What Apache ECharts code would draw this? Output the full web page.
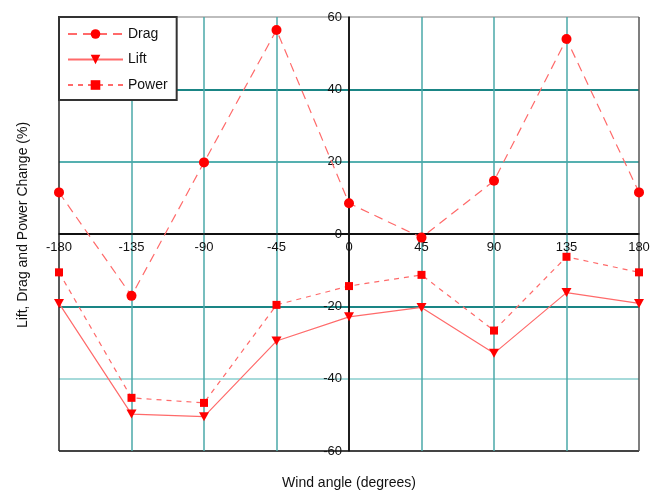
<!DOCTYPE html>
<html>
<head>
<meta charset="utf-8">
<script src="https://cdn.jsdelivr.net/npm/echarts@6/dist/echarts.min.js"></script>
<style>html,body{margin:0;padding:0;background:#fff}#c{width:653px;height:494px}</style>
</head>
<body>
<div id="c"></div>
<script>
var angles = [-180, -135, -90, -45, 0, 45, 90, 135, 180];
var drag = [11.5, -17.1, 19.8, 56.4, 8.5, -1.0, 14.7, 53.9, 11.5];
var lift = [-19.2, -49.8, -50.5, -29.6, -22.9, -20.3, -33.0, -16.2, -19.2];
var power = [-10.6, -45.3, -46.7, -19.6, -14.4, -11.3, -26.7, -6.3, -10.6];
var xTicks = [-180, -135, -90, -45, 0, 45, 90, 135, 180];
var yTicks = [-60, -40, -20, 0, 20, 40, 60];

function pairs(vals) { return angles.map(function (a, i) { return [a, vals[i]]; }); }

var FONT = 'Liberation Sans, Arial, sans-serif';
var lineColor = '#ff6a6a';
var markColor = '#ff0000';

var W = 653, H = 494;
var G = { left: 59, right: 14, top: 17, bottom: 43 };
var plotW = W - G.left - G.right, plotH = H - G.top - G.bottom;
var xMin = xTicks[0], xMax = xTicks[xTicks.length - 1];
var yMin = yTicks[0], yMax = yTicks[yTicks.length - 1];
// move axes onto the zero lines of the other axis
var xAxisOffset = -plotH * (0 - yMin) / (yMax - yMin);
var yAxisOffset = -plotW * (0 - xMin) / (xMax - xMin);

var chart = echarts.init(document.getElementById('c'));
chart.setOption({
  animation: false,
  backgroundColor: '#fff',
  textStyle: { fontFamily: FONT },
  grid: { left: G.left, right: G.right, top: G.top, bottom: G.bottom, containLabel: false },
  xAxis: {
    type: 'value', position: 'bottom', offset: xAxisOffset,
    min: xMin, max: xMax, interval: 45,
    axisLine: { onZero: false, lineStyle: { color: '#111', width: 1.5 } },
    axisTick: { show: false },
    axisLabel: { color: '#111', fontSize: 13, margin: 7, fontFamily: FONT },
    splitLine: { show: true, lineStyle: { width: 1.5, color: ['#222', '#4aa8a8', '#4aa8a8', '#4aa8a8', '#111', '#4aa8a8', '#4aa8a8', '#4aa8a8', '#555'] } }
  },
  yAxis: {
    type: 'value', position: 'left', offset: yAxisOffset,
    min: yMin, max: yMax, interval: 20,
    axisLine: { onZero: false, lineStyle: { color: '#111', width: 1.5 } },
    axisTick: { show: false },
    axisLabel: { color: '#111', fontSize: 13, margin: 7, fontFamily: FONT },
    splitLine: { show: true, lineStyle: { width: 2, color: ['#444', '#a6dada', '#1a8585', '#111', '#55b0b0', '#1a8585', '#bdbdbd'] } }
  },
  legend: {
    orient: 'vertical', left: 59, top: 17,
    backgroundColor: '#fff', borderColor: '#333', borderWidth: 2, borderRadius: 0,
    padding: [10, 9, 8, 8],
    itemWidth: 55, itemHeight: 12, itemGap: 11.5,
    textStyle: { fontSize: 14, color: '#111', fontFamily: FONT },
    data: ['Drag', 'Lift', 'Power']
  },
  graphic: [
    { type: 'text', x: 23, y: 225, rotation: Math.PI / 2,
      style: { text: 'Lift, Drag and Power Change (%)', font: '14px ' + FONT, fill: '#111', align: 'center', verticalAlign: 'middle' } },
    { type: 'text', x: 349, y: 483,
      style: { text: 'Wind angle (degrees)', font: '14px ' + FONT, fill: '#111', align: 'center', verticalAlign: 'middle' } }
  ],
  series: [
    { name: 'Drag', type: 'line', data: pairs(drag), symbol: 'circle', symbolSize: 10,
      lineStyle: { color: lineColor, width: 1.2, type: [9, 6] }, itemStyle: { color: markColor }, z: 5 },
    { name: 'Lift', type: 'line', data: pairs(lift), symbol: 'triangle', symbolSize: [10, 9], symbolRotate: 180,
      lineStyle: { color: lineColor, width: 1.2, type: 'solid' }, itemStyle: { color: markColor }, z: 5 },
    { name: 'Power', type: 'line', data: pairs(power), symbol: 'rect', symbolSize: 8,
      lineStyle: { color: lineColor, width: 1.2, type: [5, 5] }, itemStyle: { color: markColor }, z: 5 }
  ]
});
</script>
</body>
</html>
